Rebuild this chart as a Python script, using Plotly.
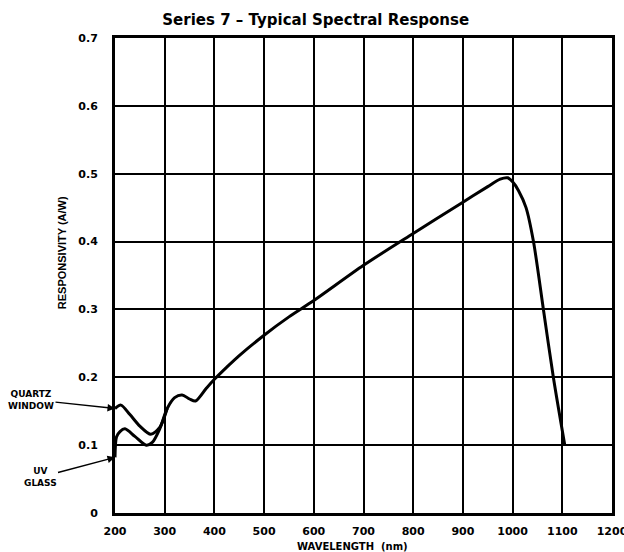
import plotly.graph_objects as go

# UV glass curve (full response)
uv_wl = [200, 203, 210, 220, 240, 263, 275, 290, 305, 320, 335, 350, 362, 383, 400, 425, 450,
         500, 550, 600, 700, 800, 900, 950, 975, 990, 1000, 1012, 1027, 1042, 1062, 1082, 1105]
uv_resp = [0.082, 0.112, 0.120, 0.124, 0.113, 0.100, 0.104, 0.124, 0.154, 0.170, 0.174, 0.168, 0.165,
           0.183, 0.197, 0.215, 0.232, 0.262, 0.289, 0.313, 0.365, 0.412, 0.458, 0.481,
           0.492, 0.494, 0.488, 0.475, 0.450, 0.400, 0.300, 0.200, 0.100]

# Quartz window curve (differs only in the UV region)
qz_wl = [200, 212, 230, 250, 272, 290, 305]
qz_resp = [0.154, 0.159, 0.145, 0.128, 0.116, 0.126, 0.154]

x_ticks = [200, 300, 400, 500, 600, 700, 800, 900, 1000, 1100, 1200]
y_ticks = [0, 0.1, 0.2, 0.3, 0.4, 0.5, 0.6, 0.7]
y_tick_labels = ["0", "0.1", "0.2", "0.3", "0.4", "0.5", "0.6", "0.7"]

font_b = "DejaVu Sans"

fig = go.Figure()
fig.add_trace(go.Scatter(x=uv_wl, y=uv_resp, mode="lines",
                         line=dict(color="black", width=3, shape="spline", smoothing=0.8),
                         showlegend=False, hoverinfo="skip"))
fig.add_trace(go.Scatter(x=qz_wl, y=qz_resp, mode="lines",
                         line=dict(color="black", width=3, shape="spline", smoothing=0.8),
                         showlegend=False, hoverinfo="skip"))

fig.update_layout(
    width=624, height=552,
    margin=dict(l=115, r=12, t=38, b=39),
    paper_bgcolor="white", plot_bgcolor="white",
    title=dict(text="<b>Series 7 – Typical Spectral Response</b>",
               x=0.506, xanchor="center", y=0.964, yanchor="middle",
               font=dict(family=font_b, size=15, color="black")),
    xaxis=dict(range=[200, 1200], tickvals=x_ticks, ticktext=[f"<b>{t}</b>" for t in x_ticks],
               showgrid=True, gridcolor="black", gridwidth=2, automargin=False,
               showline=True, linecolor="black", linewidth=3, mirror=True,
               zeroline=False, ticks="", ticklabelstandoff=6, ticklabeloverflow="allow",
               tickfont=dict(family=font_b, size=11, color="black")),
    yaxis=dict(range=[0, 0.7], tickvals=y_ticks, ticktext=[f"<b>{t}</b>" for t in y_tick_labels],
               showgrid=True, gridcolor="black", gridwidth=2, automargin=False,
               showline=True, linecolor="black", linewidth=3, mirror=True,
               zeroline=False, ticks="", ticklabelstandoff=12, ticklabeloverflow="allow",
               tickfont=dict(family=font_b, size=11, color="black")),
)

# axis titles
fig.add_annotation(x=0.477, y=-0.0695, xref="paper", yref="paper",
                   text="<b>WAVELENGTH  (nm)</b>", showarrow=False,
                   xanchor="center", yanchor="middle",
                   font=dict(family=font_b, size=10, color="black"))
fig.add_annotation(x=-0.1066, y=0.547, xref="paper", yref="paper",
                   text="<b>RESPONSIVITY (A/W)</b>", showarrow=False, textangle=-90,
                   xanchor="center", yanchor="middle",
                   font=dict(family="Liberation Sans Narrow, Liberation Sans", size=11, color="black"))

# curve labels
fig.add_annotation(x=200, y=0.154, xref="x", yref="y",
                   text="<b>QUARTZ<br>WINDOW</b>", showarrow=True,
                   ax=-84, ay=-9, arrowhead=2, arrowsize=1, arrowwidth=1.5, arrowcolor="black",
                   font=dict(family=font_b, size=9, color="black"), align="center")
fig.add_annotation(x=200, y=0.082, xref="x", yref="y",
                   text="<b>UV<br>GLASS</b>", showarrow=True,
                   ax=-75, ay=20, arrowhead=2, arrowsize=1, arrowwidth=1.5, arrowcolor="black",
                   font=dict(family=font_b, size=9, color="black"), align="center")

fig.write_html("out.html", config={"displayModeBar": False},
               post_script="document.body.style.margin='0';")
